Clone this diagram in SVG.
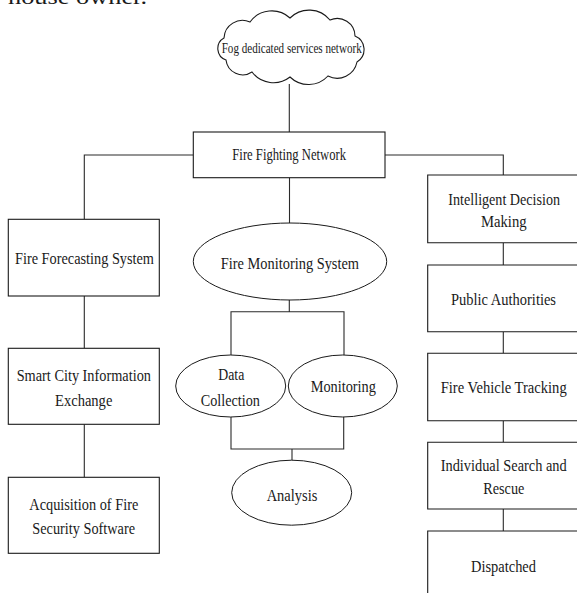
<svg xmlns="http://www.w3.org/2000/svg" width="577" height="593" viewBox="0 0 577 593">
  <style>
    .box { fill: #ffffff; stroke: #1a1a1a; stroke-width: 1.1; }
    .ell { fill: #ffffff; stroke: #1a1a1a; stroke-width: 1; }
    .wire { fill: none; stroke: #2a2a2a; stroke-width: 1.1; }
    .lbl { font-family: "Liberation Serif", "Times New Roman", serif; font-size: 17.5px; fill: #1a1a1a; text-anchor: middle; }
    .small { font-size: 15px; }
  </style>
  <rect x="0" y="0" width="577" height="593" fill="#ffffff"/>

  <!-- tail of the preceding paragraph, clipped by the top edge -->
  <text x="8" y="4" font-family="Liberation Serif, serif" font-size="22" fill="#1a1a1a" textLength="139" lengthAdjust="spacingAndGlyphs">house owner.</text>

  <!-- connectors -->
  <g id="connectors" class="wire">
    <path d="M289.3 84 V132"/>
    <path d="M193.3 155 H84.3 V219.3"/>
    <path d="M385 155 H503.3 V175"/>
    <path d="M289.5 177.7 V223"/>
    <path d="M84.3 296 V348.3"/>
    <path d="M84.3 424.3 V477.3"/>
    <path d="M503.3 242.7 V265"/>
    <path d="M503.3 331.7 V353.3"/>
    <path d="M503.3 420.7 V442.3"/>
    <path d="M503.3 509 V531"/>
    <path d="M289.3 300 V311.7 M231 355 V311.7 H344 V355"/>
    <path d="M231 417 V449 H343.7 V417 M292 449 V460.5"/>
  </g>

  <!-- top: fog cloud -->
  <g id="fog">
    <path class="box" d="M224 38 A18.5 18.5 0 0 1 250 22 A27 27 0 0 1 290 18 A27 27 0 0 1 330 20 A17.8 17.8 0 0 1 355 36 A14.6 14.6 0 0 1 357 62 A20.2 20.2 0 0 1 328 76 A26.6 26.6 0 0 1 290 77 A26.9 26.9 0 0 1 252 72 A16.8 16.8 0 0 1 226 60 A12.1 12.1 0 0 1 224 38 Z"/>
    <text class="lbl small" x="291.7" y="53.3" textLength="140" lengthAdjust="spacingAndGlyphs">Fog dedicated services network</text>
  </g>

  <g id="fire-fighting-network">
    <rect class="box" x="193.3" y="132" width="191.7" height="45.7"/>
    <text class="lbl" x="289.2" y="160" textLength="113.7" lengthAdjust="spacingAndGlyphs">Fire Fighting Network</text>
  </g>

  <!-- left column -->
  <g id="fire-forecasting">
    <rect class="box" x="8.3" y="219.3" width="151" height="76.7"/>
    <text class="lbl" x="84.5" y="264" textLength="139" lengthAdjust="spacingAndGlyphs">Fire Forecasting System</text>
  </g>
  <g id="smart-city">
    <rect class="box" x="8.3" y="348.3" width="151" height="76"/>
    <text class="lbl" x="83.8" y="380.5" textLength="134.3" lengthAdjust="spacingAndGlyphs">Smart City Information</text>
    <text class="lbl" x="83.7" y="406" textLength="57.3" lengthAdjust="spacingAndGlyphs">Exchange</text>
  </g>
  <g id="acquisition">
    <rect class="box" x="8.3" y="477.3" width="151" height="76"/>
    <text class="lbl" x="83.8" y="510" textLength="109" lengthAdjust="spacingAndGlyphs">Acquisition of Fire</text>
    <text class="lbl" x="83.7" y="534.3" textLength="102.7" lengthAdjust="spacingAndGlyphs">Security Software</text>
  </g>

  <!-- middle column -->
  <g id="fire-monitoring">
    <ellipse class="ell" cx="290" cy="261.5" rx="96.7" ry="38.5"/>
    <text class="lbl" x="289.9" y="268.5" textLength="138.3" lengthAdjust="spacingAndGlyphs">Fire Monitoring System</text>
  </g>
  <g id="data-collection">
    <ellipse class="ell" cx="230.7" cy="386" rx="55" ry="31"/>
    <text class="lbl" x="231.3" y="380" textLength="26" lengthAdjust="spacingAndGlyphs">Data</text>
    <text class="lbl" x="230.3" y="406" textLength="59.3" lengthAdjust="spacingAndGlyphs">Collection</text>
  </g>
  <g id="monitoring">
    <ellipse class="ell" cx="342.8" cy="386" rx="54.5" ry="31"/>
    <text class="lbl" x="343.3" y="392" textLength="65.3" lengthAdjust="spacingAndGlyphs">Monitoring</text>
  </g>
  <g id="analysis">
    <ellipse class="ell" cx="291.7" cy="492.7" rx="60" ry="32.5"/>
    <text class="lbl" x="292" y="500.7" textLength="50.7" lengthAdjust="spacingAndGlyphs">Analysis</text>
  </g>

  <!-- right column: the boxes are open at the right edge of the page -->
  <g id="decision-making">
    <path class="box" d="M577 175 H427.7 V242.7 H577"/>
    <text class="lbl" x="504.2" y="205" textLength="111.7" lengthAdjust="spacingAndGlyphs">Intelligent Decision</text>
    <text class="lbl" x="503.8" y="227" textLength="45.7" lengthAdjust="spacingAndGlyphs">Making</text>
  </g>
  <g id="public-authorities">
    <path class="box" d="M577 265 H427.7 V331.7 H577"/>
    <text class="lbl" x="503.5" y="305" textLength="105" lengthAdjust="spacingAndGlyphs">Public Authorities</text>
  </g>
  <g id="vehicle-tracking">
    <path class="box" d="M577 353.3 H427.7 V420.7 H577"/>
    <text class="lbl" x="503.7" y="393" textLength="126" lengthAdjust="spacingAndGlyphs">Fire Vehicle Tracking</text>
  </g>
  <g id="search-rescue">
    <path class="box" d="M577 442.3 H427.7 V509 H577"/>
    <text class="lbl" x="503.7" y="470.7" textLength="126" lengthAdjust="spacingAndGlyphs">Individual Search and</text>
    <text class="lbl" x="503.8" y="494.3" textLength="41" lengthAdjust="spacingAndGlyphs">Rescue</text>
  </g>
  <g id="dispatched">
    <path class="box" d="M577 531 H427.7 V593"/>
    <text class="lbl" x="503.5" y="571.7" textLength="65" lengthAdjust="spacingAndGlyphs">Dispatched</text>
  </g>
</svg>
